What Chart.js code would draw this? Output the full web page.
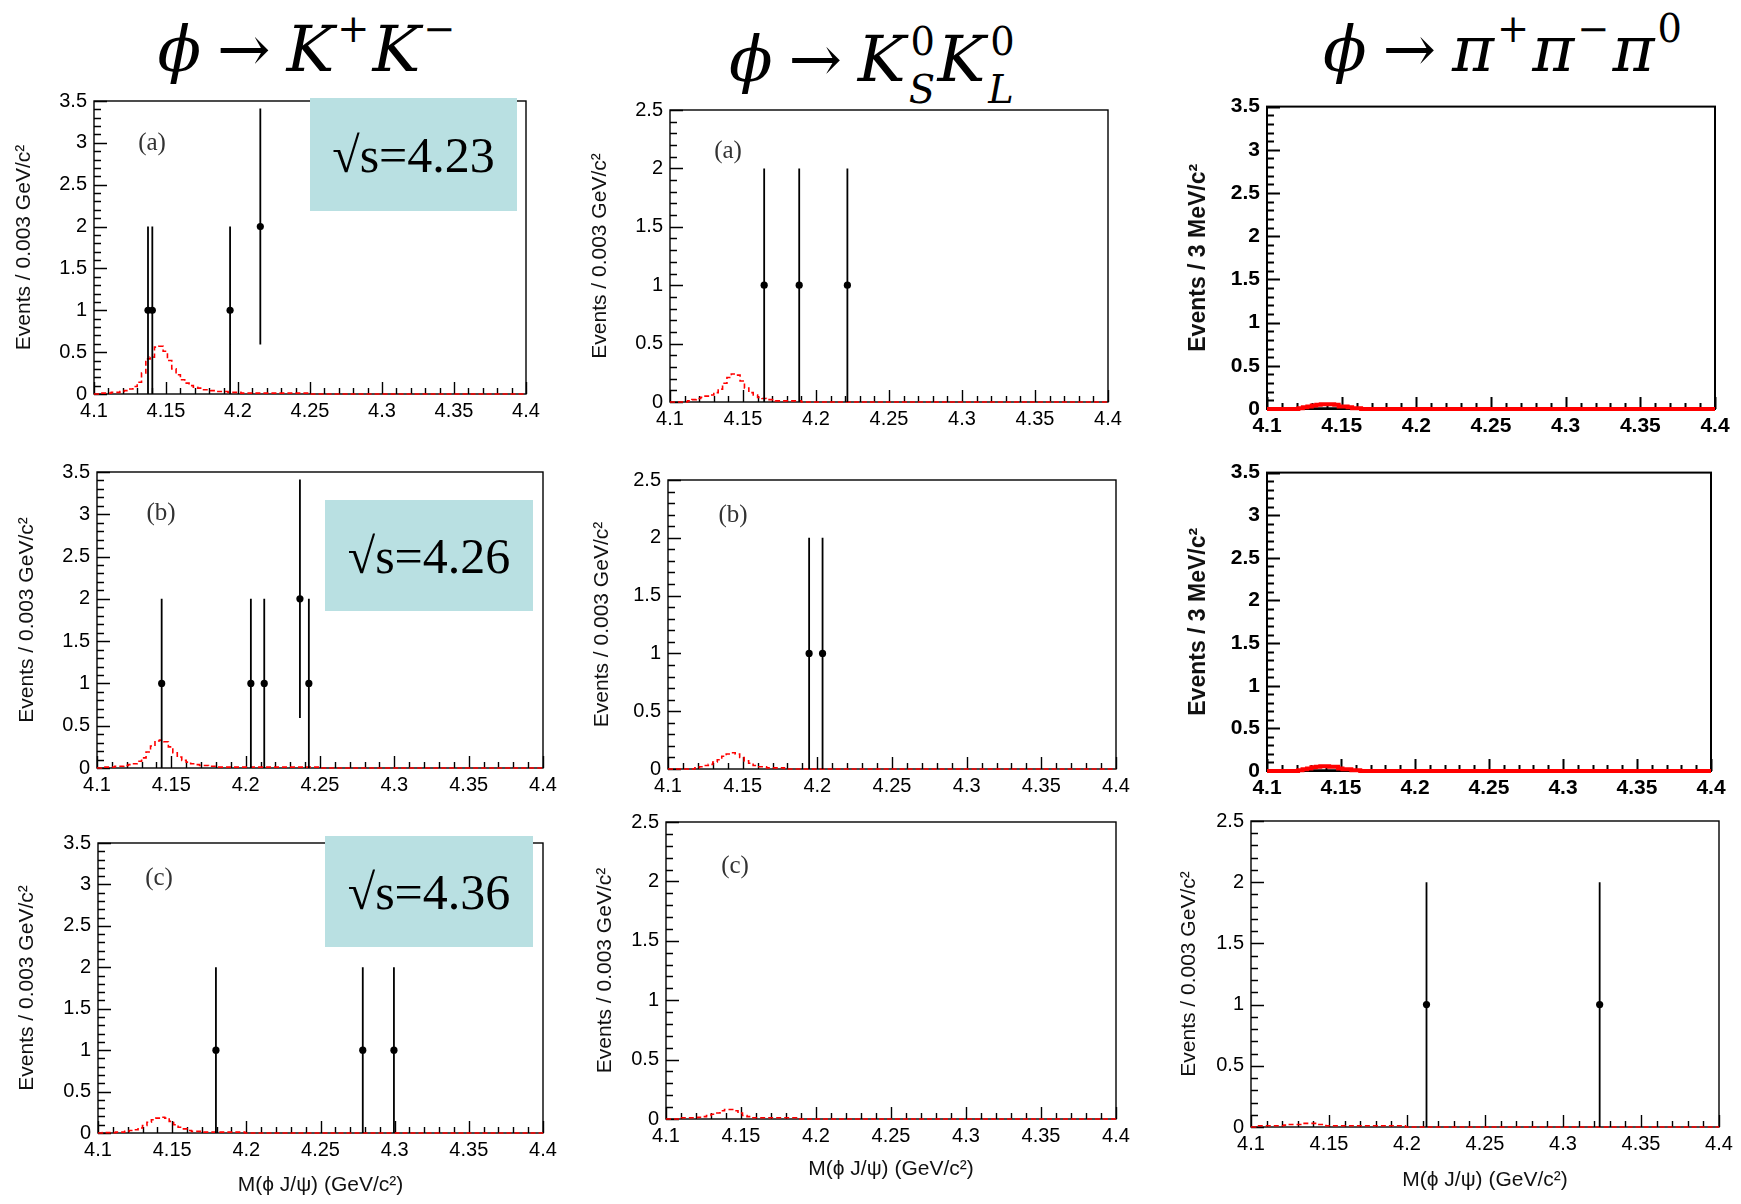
<!DOCTYPE html>
<html>
<head>
<meta charset="utf-8">
<script src="https://cdn.jsdelivr.net/npm/chart.js@4.4.1/dist/chart.umd.min.js"></script>
<style>
  body { margin: 0; background: #fff; width: 1741px; height: 1204px; position: relative; overflow: hidden; }
  canvas { position: absolute; }
  .title { position: absolute; font-family: "DejaVu Serif", "Liberation Serif", serif; font-style: italic; font-size: 64px; line-height: 1; white-space: nowrap; letter-spacing: 3px; transform: translateX(-50%); }
  .title .arr { font-style: normal; margin: 0 0.2em; }
  .title sup { font-size: 0.6em; vertical-align: 0.75em; font-style: normal; }
  .ss { display: inline-block; position: relative; font-size: 0.6em; width: 0.75em; height: 1.667em; vertical-align: baseline; }
  .ss .u { position: absolute; left: 0.05em; top: 0.15em; line-height: 1; font-style: normal; }
  .ss .d { position: absolute; left: 0; top: 1.4em; line-height: 1; }
  .box { position: absolute; background: #b9e0e2; font-family: "Liberation Serif", serif; font-size: 50px; display: flex; align-items: center; justify-content: center; }
  .tag { position: absolute; font-family: "Liberation Serif", serif; font-size: 25px; color: #333; transform: translate(-50%, -50%); }
</style>
</head>
<body>
<div class="title" style="left:308px;top:10px">ϕ<span class="arr">→</span>K<sup>+</sup>K<sup>−</sup></div>
<div class="title" style="left:873px;top:17px">ϕ<span class="arr">→</span>K<span class="ss"><span class="u">0</span><span class="d">S</span></span>K<span class="ss"><span class="u">0</span><span class="d">L</span></span></div>
<div class="title" style="left:1504px;top:10px">ϕ<span class="arr">→</span>π<sup>+</sup>π<sup>−</sup>π<sup>0</sup></div>

<script>
const massTicks = [4.1, 4.15, 4.2, 4.25, 4.3, 4.35, 4.4];
const countTicks35 = [0, 0.5, 1, 1.5, 2, 2.5, 3, 3.5];
const countTicks25 = [0, 0.5, 1, 1.5, 2, 2.5];

// MC histograms: bins of 0.003 GeV starting at 4.100
const binStart = 4.1;
const binWidth = 0.003;

// phi -> K+K-
const kk423X = [4.1375, 4.1405, 4.1945, 4.2155];
const kk423Y = [1, 1, 1, 2];
const kk423Err = [1, 1, 1, 1.41];
const kk423Mc = [0, 0.01, 0.01, 0.01, 0.02, 0.02, 0.03, 0.04, 0.06, 0.09, 0.14, 0.25, 0.42, 0.44, 0.56, 0.57, 0.51, 0.40, 0.30, 0.23,
  0.17, 0.13, 0.10, 0.08, 0.07, 0.05, 0.05, 0.04, 0.03, 0.03, 0.03, 0.02, 0.02, 0.02, 0.01, 0.01, 0.01, 0.01, 0.01, 0.01,
  0.01, 0.01, 0.01, 0.01, 0.01, 0.01, 0.01, 0.01, 0.01, 0.01, 0];

const kk426X = [4.1435, 4.2035, 4.2125, 4.2365, 4.2425];
const kk426Y = [1, 1, 1, 2, 1];
const kk426Err = [1, 1, 1, 1.41, 1];
const kk426Mc = [0, 0.01, 0.01, 0.01, 0.02, 0.02, 0.03, 0.04, 0.05, 0.08, 0.12, 0.19, 0.26, 0.32, 0.33, 0.31, 0.25, 0.18, 0.13, 0.09,
  0.07, 0.05, 0.04, 0.03, 0.03, 0.02, 0.02, 0.01, 0.01, 0.01, 0.01, 0.01, 0.01, 0.01, 0.01, 0.01, 0.01, 0.01, 0.01, 0.01,
  0.01, 0.01, 0.01, 0.01, 0.01, 0.01, 0.01, 0.01, 0.01, 0.01, 0];

const kk436X = [4.1795, 4.2785, 4.2995];
const kk436Y = [1, 1, 1];
const kk436Err = [1, 1, 1];
const kk436Mc = [0, 0.005, 0.005, 0.005, 0.01, 0.01, 0.02, 0.03, 0.04, 0.06, 0.09, 0.13, 0.16, 0.18, 0.19, 0.18, 0.14, 0.10, 0.07, 0.05,
  0.03, 0.02, 0.02, 0.01, 0.01, 0.01, 0.01, 0.01, 0.01, 0.01, 0.01, 0.01, 0.01, 0];

// phi -> KsKl
const kl423X = [4.1645, 4.1885, 4.2215];
const kl423Y = [1, 1, 1];
const kl423Err = [1, 1, 1];
const kl423Mc = [0, 0, 0, 0, 0.01, 0.02, 0.03, 0.04, 0.05, 0.06, 0.08, 0.11, 0.16, 0.21, 0.24, 0.23, 0.18, 0.12, 0.08, 0.06,
  0.04, 0.03, 0.02, 0.02, 0.01, 0.01, 0.01, 0.01, 0.01, 0.01, 0];

const kl426X = [4.1945, 4.2035];
const kl426Y = [1, 1];
const kl426Err = [1, 1];
const kl426Mc = [0, 0, 0, 0, 0, 0, 0.01, 0.02, 0.03, 0.04, 0.06, 0.08, 0.11, 0.13, 0.14, 0.13, 0.10, 0.07, 0.05, 0.03,
  0.02, 0.02, 0.01, 0.01, 0.01, 0.01, 0];

const kl436Mc = [0, 0, 0, 0.01, 0.01, 0.01, 0.01, 0.015, 0.02, 0.03, 0.04, 0.05, 0.07, 0.08, 0.08, 0.07, 0.05, 0.03, 0.02, 0.01,
  0.01, 0.01, 0.01, 0.01, 0.01, 0.01, 0.01, 0.01, 0.01, 0];

// phi -> pi+pi-pi0
const ppp423Mc = [0, 0, 0, 0, 0, 0, 0, 0.01, 0.02, 0.03, 0.04, 0.05, 0.055, 0.055, 0.055, 0.05, 0.03, 0.03, 0.02, 0.01, 0.01, 0];
const ppp423Bkg = [0, 0, 0, 0, 0, 0, 0, 0.005, 0.01, 0.01, 0.01, 0.01, 0.01, 0.01, 0.01, 0.01, 0.01, 0.005, 0];
const ppp426Mc = [0, 0, 0, 0, 0, 0, 0, 0.01, 0.02, 0.03, 0.045, 0.05, 0.055, 0.055, 0.05, 0.05, 0.03, 0.02, 0.02, 0.01, 0.01, 0];
const ppp426Bkg = [0, 0, 0, 0, 0, 0, 0, 0.005, 0.01, 0.01, 0.01, 0.01, 0.01, 0.01, 0.01, 0.01, 0.01, 0.005, 0];

const ppp436X = [4.2125, 4.3235];
const ppp436Y = [1, 1];
const ppp436Err = [1, 1];
const ppp436Mc = [0, 0.01, 0.01, 0.01, 0.01, 0.01, 0.01, 0.015, 0.02, 0.02, 0.02, 0.03, 0.03, 0.03, 0.02, 0.02, 0.01, 0.01, 0.01, 0.01,
  0.01, 0.01, 0.01, 0.01, 0.01, 0.01, 0.01, 0.01, 0.01, 0.01, 0.01, 0.01, 0.01, 0];

const gevTitle = 'Events / 0.003 GeV/c²';
const mevTitle = 'Events / 3 MeV/c²';
const massTitle = 'M(ϕ J/ψ) (GeV/c²)';

// frame, inward ROOT-style ticks
const rootAxes = {
  id: 'rootAxes',
  beforeDatasetsDraw(chart, args, o) {
    const {ctx, chartArea: a, scales: {x, y}} = chart;
    ctx.save();
    ctx.strokeStyle = '#000';
    ctx.lineWidth = o.lw;
    ctx.beginPath();
    for (let k = 0; k <= 30; k++) {
      const px = Math.round(x.getPixelForValue(4.1 + k * 0.01)) + 0.5;
      ctx.moveTo(px, a.bottom);
      ctx.lineTo(px, a.bottom - (k % 5 === 0 ? o.xMaj : o.xMin));
    }
    const nY = Math.round(y.max * 10);
    for (let k = 0; k <= nY; k++) {
      const py = Math.round(y.getPixelForValue(k / 10)) + 0.5;
      ctx.moveTo(a.left, py);
      ctx.lineTo(a.left + (k % 5 === 0 ? o.yMaj : o.yMin), py);
    }
    ctx.stroke();
    ctx.strokeRect(a.left, a.top, a.width, a.height);
    ctx.restore();
  }
};

const errBars = {
  id: 'errBars',
  beforeDatasetDraw(chart, args) {
    const ds = chart.data.datasets[args.index];
    if (!ds.err) return;
    const {ctx, scales: {y}} = chart;
    ctx.save();
    ctx.strokeStyle = '#000';
    ctx.lineWidth = 1.8;
    ctx.beginPath();
    args.meta.data.forEach((pt, i) => {
      const v = ds.data[i].y;
      ctx.moveTo(pt.x, y.getPixelForValue(v - ds.err[i]));
      ctx.lineTo(pt.x, y.getPixelForValue(v + ds.err[i]));
    });
    ctx.stroke();
    ctx.restore();
  }
};

function histPoints(vals) {
  const pts = vals.map((v, i) => ({x: binStart + i * binWidth, y: v}));
  pts.push({x: 4.4, y: 0});
  return pts;
}

function drawPanel(p) {
  const f = p.frame;
  const yw = 110, pt = 16, pr = 30;
  const xh = p.xTitleY ? 80 : 40;
  const cl = f.l - yw, ct = f.t - pt;
  const c = document.createElement('canvas');
  c.width = f.r - f.l + yw + pr;
  c.height = f.b - f.t + pt + xh;
  c.style.left = cl + 'px';
  c.style.top = ct + 'px';
  document.body.appendChild(c);

  const weight = p.bold ? 'bold' : 'normal';
  const tickFont = {family: '"Liberation Sans", Arial, sans-serif', size: p.bold ? 21 : 20, weight: weight};
  const yFontSize = p.bold ? 23 : 21;
  const datasets = [];
  if (p.x) {
    datasets.push({
      data: p.x.map((v, i) => ({x: v, y: p.y[i]})),
      err: p.err,
      showLine: false,
      pointRadius: 3.6,
      pointBackgroundColor: '#000',
      pointBorderColor: '#000',
      pointBorderWidth: 0
    });
  }
  datasets.push({
    data: histPoints(p.mc),
    stepped: 'before',
    borderColor: '#ff0000',
    borderWidth: p.bold ? 4 : 1.6,
    borderDash: p.bold ? [] : [5, 3],
    pointRadius: 0,
    clip: false
  });
  if (p.bkg) {
    datasets.push({
      data: histPoints(p.bkg),
      stepped: 'before',
      borderColor: '#000',
      borderWidth: 2,
      pointRadius: 0,
      clip: false
    });
  }

  new Chart(c, {
    type: 'line',
    data: {datasets: datasets},
    plugins: [rootAxes, errBars],
    options: {
      responsive: false,
      animation: false,
      events: [],
      layout: {padding: {top: pt, right: pr, left: 0, bottom: 0}},
      plugins: {
        legend: {display: false},
        tooltip: {enabled: false},
        rootAxes: {lw: p.bold ? 2 : 1.4, xMaj: 12, xMin: 6, yMaj: 13, yMin: 7}
      },
      scales: {
        x: {
          type: 'linear', min: 4.1, max: 4.4,
          grid: {display: false, drawTicks: false},
          border: {display: false},
          afterBuildTicks: s => { s.ticks = massTicks.map(v => ({value: v})); },
          afterFit: s => { s.height = xh; },
          ticks: {color: '#000', font: tickFont, padding: 5, maxRotation: 0, autoSkip: false, callback: v => String(v)},
          title: p.xTitleY ? {
            display: true, text: massTitle, color: '#111',
            font: {family: '"Liberation Sans", Arial, sans-serif', size: 21},
            padding: {top: 0, bottom: (f.b + xh) - p.xTitleY - 12.6}
          } : {display: false}
        },
        y: {
          type: 'linear', min: 0, max: p.ticks[p.ticks.length - 1],
          grid: {display: false, drawTicks: false},
          border: {display: false},
          afterBuildTicks: s => { s.ticks = p.ticks.map(v => ({value: v})); },
          afterFit: s => { s.width = yw; },
          ticks: {color: '#000', font: tickFont, padding: 7, callback: v => String(v)},
          title: {
            display: true, text: p.yTitle, color: '#111',
            font: {family: '"Liberation Sans", Arial, sans-serif', size: yFontSize, weight: weight},
            padding: {top: p.yTitleX - cl - yFontSize * 0.6, bottom: 0}
          }
        }
      }
    }
  });
}

const panels = [
  {frame: {l: 94, t: 98, r: 526, b: 394}, ticks: countTicks35, yTitle: gevTitle, yTitleX: 24,
    x: kk423X, y: kk423Y, err: kk423Err, mc: kk423Mc},
  {frame: {l: 670, t: 107, r: 1108, b: 402}, ticks: countTicks25, yTitle: gevTitle, yTitleX: 600,
    x: kl423X, y: kl423Y, err: kl423Err, mc: kl423Mc},
  {frame: {l: 1267, t: 103, r: 1715, b: 409}, ticks: countTicks35, yTitle: mevTitle, yTitleX: 1199, bold: true,
    mc: ppp423Mc, bkg: ppp423Bkg},
  {frame: {l: 97, t: 469, r: 543, b: 768}, ticks: countTicks35, yTitle: gevTitle, yTitleX: 27,
    x: kk426X, y: kk426Y, err: kk426Err, mc: kk426Mc},
  {frame: {l: 668, t: 477, r: 1116, b: 769}, ticks: countTicks25, yTitle: gevTitle, yTitleX: 602,
    x: kl426X, y: kl426Y, err: kl426Err, mc: kl426Mc},
  {frame: {l: 1267, t: 469, r: 1711, b: 771}, ticks: countTicks35, yTitle: mevTitle, yTitleX: 1199, bold: true,
    mc: ppp426Mc, bkg: ppp426Bkg},
  {frame: {l: 98, t: 840, r: 543, b: 1133}, ticks: countTicks35, yTitle: gevTitle, yTitleX: 27, xTitleY: 1185,
    x: kk436X, y: kk436Y, err: kk436Err, mc: kk436Mc},
  {frame: {l: 666, t: 819, r: 1116, b: 1119}, ticks: countTicks25, yTitle: gevTitle, yTitleX: 605, xTitleY: 1169,
    mc: kl436Mc},
  {frame: {l: 1251, t: 818, r: 1719, b: 1127}, ticks: countTicks25, yTitle: gevTitle, yTitleX: 1189, xTitleY: 1180,
    x: ppp436X, y: ppp436Y, err: ppp436Err, mc: ppp436Mc}
];
panels.forEach(drawPanel);

// energy boxes and panel letters
const boxes = [
  {text: '√s=4.23', l: 310, t: 98, w: 207, h: 113},
  {text: '√s=4.26', l: 325, t: 500, w: 208, h: 111},
  {text: '√s=4.36', l: 325, t: 836, w: 208, h: 111}
];
boxes.forEach(b => {
  const d = document.createElement('div');
  d.className = 'box';
  d.style.cssText = `left:${b.l}px;top:${b.t}px;width:${b.w}px;height:${b.h}px`;
  d.textContent = b.text;
  document.body.appendChild(d);
});
const tags = [
  {text: '(a)', x: 152, y: 142}, {text: '(a)', x: 728, y: 150},
  {text: '(b)', x: 161, y: 512}, {text: '(b)', x: 733, y: 514},
  {text: '(c)', x: 159, y: 877}, {text: '(c)', x: 735, y: 865}
];
tags.forEach(t => {
  const d = document.createElement('div');
  d.className = 'tag';
  d.style.cssText = `left:${t.x}px;top:${t.y}px`;
  d.textContent = t.text;
  document.body.appendChild(d);
});
</script>
</body>
</html>
